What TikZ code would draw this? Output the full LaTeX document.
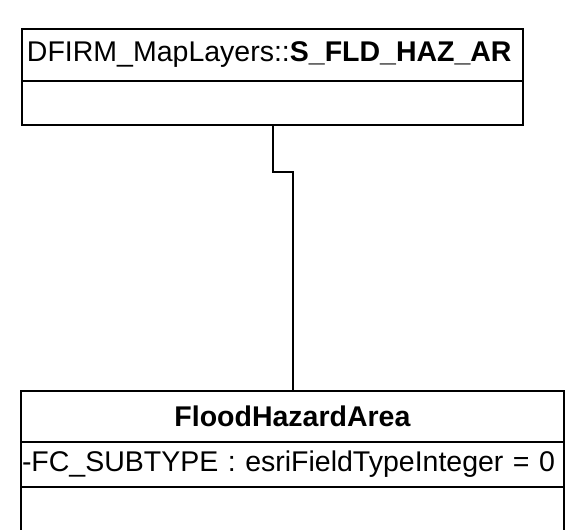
\documentclass[tikz,border=0pt]{standalone}
\usepackage{fontspec}
\setmainfont{Liberation Sans}
\usetikzlibrary{positioning}
\tikzset{
  compart/.style ={draw=black,line width=2pt,inner sep=0pt,outer sep=0pt,
                   font=\fontsize{28.5}{34}\selectfont},
  link/.style    ={draw=black,line width=2pt},
}

\begin{document}
\begin{tikzpicture}[x=1pt,y=-1pt]
\clip (0,0) rectangle (566,530);

% Nodes
\node[compart,minimum width=501pt,minimum height=52pt,text width=491pt,align=left] (mapHead) at (272.5,55) {DFIRM\_MapLayers::\textbf{S\_FLD\_HAZ\_AR}};
\node[compart,minimum width=501pt,minimum height=44pt,below=0pt of mapHead] (mapBody) {};

\node[compart,minimum width=543pt,minimum height=51pt] (areaHead) at (292.5,416.5) {\textbf{FloodHazardArea}};
\node[compart,minimum width=543pt,minimum height=45pt,text width=541pt,align=left,below=0pt of areaHead] (areaAttr) {-FC\_SUBTYPE : esriFieldTypeInteger = 0};
\node[compart,minimum width=543pt,minimum height=60pt,below=0pt of areaAttr] (areaOps) {};

% Edges
\coordinate (bend) at (0,172);
\draw[link] (mapBody.south) |- (bend -| areaHead.north) -- (areaHead.north);

\end{tikzpicture}
\end{document}
